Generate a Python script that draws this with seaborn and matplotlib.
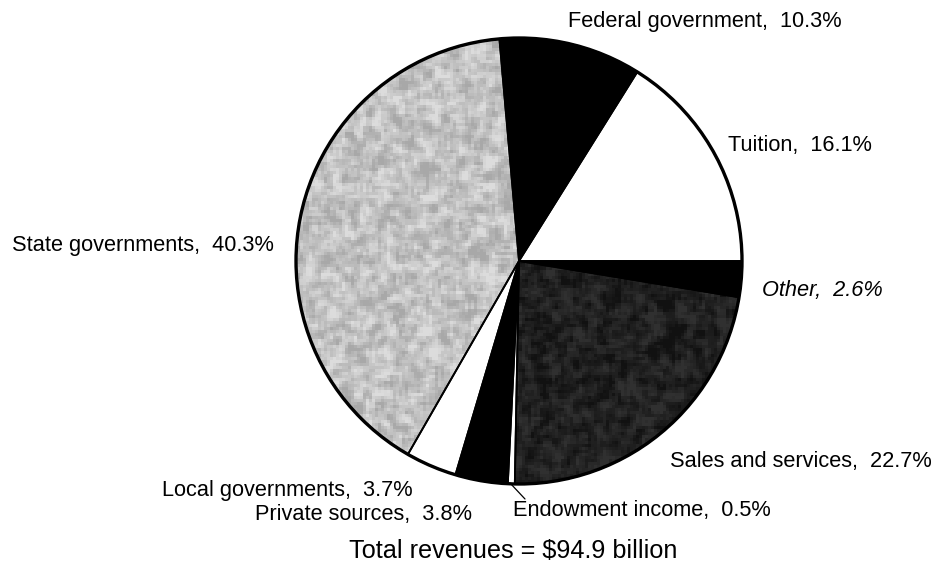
import numpy as np
import matplotlib
matplotlib.use("Agg")
import matplotlib.pyplot as plt
import seaborn as sns

# Revenue sources, in the order they are laid out counter-clockwise from 3 o'clock
sources = ["Tuition", "Federal government", "State governments", "Local governments",
           "Private sources", "Endowment income", "Sales and services", "Other"]
shares = [16.1, 10.3, 40.3, 3.7, 3.8, 0.5, 22.7, 2.6]
total_billion = 94.9

sns.set_theme(style="white")
plt.rcParams["font.family"] = ["Liberation Sans", "DejaVu Sans"]

W, H = 940, 575
fig = plt.figure(figsize=(W / 100, H / 100), dpi=100)
ax = fig.add_axes([0, 0, 1, 1])

cx, cy, r = 519, H - 261, 223

fills = ["white", "black", "#c8c8c8", "white", "black", "white", "#1c1c1c", "black"]
wedges, _ = ax.pie(shares, colors=fills, startangle=0, counterclock=True,
                   center=(cx, cy), radius=r, frame=True,
                   wedgeprops=dict(linewidth=0))

# mottled textures for the two shaded wedges
rng = np.random.default_rng(11)


def mottled(lo, hi, grain=3):
    n = rng.random((H // grain + 2, W // grain + 2))
    s = np.zeros_like(n)
    for dy in (-1, 0, 1):
        for dx in (-1, 0, 1):
            s += np.roll(np.roll(n, dy, 0), dx, 1)
    s = (s / 9 - 0.5) * 3 + 0.5
    s = np.clip(s, 0, 1)
    s = np.kron(s, np.ones((grain, grain)))[:H, :W]
    return lo + (hi - lo) * s


for idx, (lo, hi) in {2: (0.66, 0.86), 6: (0.07, 0.19)}.items():
    tex = mottled(lo, hi)
    im = ax.imshow(tex, cmap="gray", vmin=0, vmax=1, extent=(0, W, 0, H),
                   origin="upper", interpolation="bilinear", zorder=2)
    im.set_clip_path(wedges[idx])

# outlines on top of the textures
ax.pie(shares, colors=["none"] * len(shares), startangle=0,
       counterclock=True, center=(cx, cy), radius=r, frame=True,
       wedgeprops=dict(linewidth=1.3, edgecolor="black", zorder=3))
ax.add_patch(plt.Circle((cx, cy), r, fill=False, lw=2.4, ec="black", zorder=4))
ax.set_xlim(0, W)
ax.set_ylim(0, H)
ax.set_aspect("equal")
ax.axis("off")

# label anchor points (left x, baseline y)
label_pos = [(728, 151), (568, 27), (12, 251), (162, 496),
             (255, 520), (513, 516), (670, 467), (762, 296)]
fs = 15.7
for name, val, (lx, ly) in zip(sources, shares, label_pos):
    style = "italic" if name == "Other" else "normal"
    ax.text(lx, H - ly, f"{name},  {val}%", fontsize=fs, ha="left",
            va="baseline", color="black", style=style, zorder=5)

# leader line for the thin endowment wedge
ax.plot([510, 525], [H - 483, H - 499], color="black", lw=0.9, zorder=5)

ax.text(513, H - 558, f"Total revenues = ${total_billion} billion", fontsize=18.2,
        ha="center", va="baseline", color="black", zorder=5)

fig.savefig("out.png", dpi=100, facecolor="white")
